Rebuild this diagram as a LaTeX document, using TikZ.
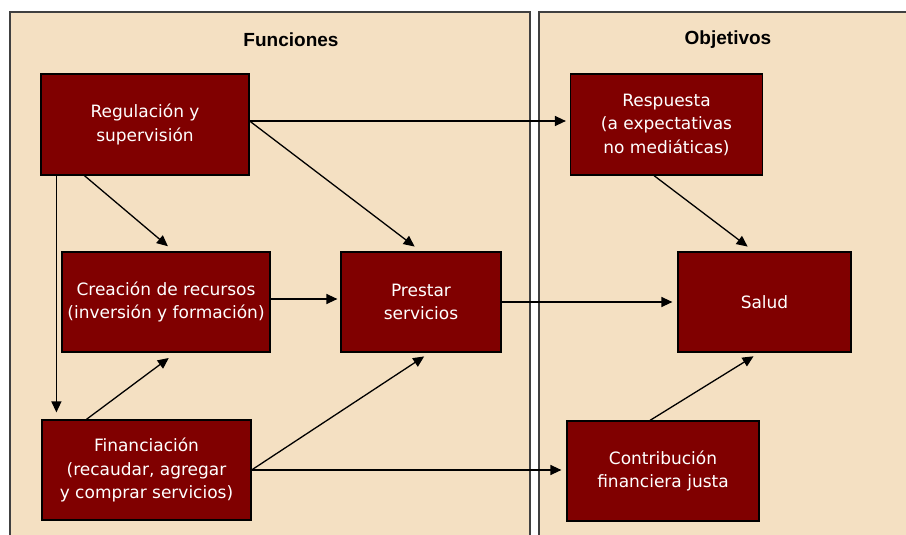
\documentclass[tikz,border=0pt]{standalone}
\usepackage{fontspec}
\setmainfont{DejaVu Sans}
\newfontfamily\titlefont{Liberation Sans}
\usetikzlibrary{arrows.meta,calc}
\definecolor{beige}{HTML}{F4E0C2}
\definecolor{boxred}{HTML}{800000}
\begin{document}
\begin{tikzpicture}[x=1pt,y=-1pt,
 box/.style={draw=black,line width=1.2pt,fill=boxred,text=white,align=center,inner sep=0pt,font=\fontsize{17}{23.5}\selectfont},
 arr/.style={-{Triangle[length=11pt,width=10pt]},line width=1.3pt,draw=black},
 panel/.style={draw=black!75,line width=1.5pt,fill=beige},
 title/.style={font=\titlefont\bfseries\fontsize{19}{21}\selectfont}]
\useasboundingbox (0,0) rectangle (906,535);
\fill[white] (0,0) rectangle (906,535);
\begin{scope}
\clip (0,0) rectangle (906,535);
\draw[panel] (10,12) rectangle (530,545);
\draw[panel] (539,12) rectangle (915,545);
\end{scope}
\node[title] (tf) at (291,40) {Funciones};
\node[title] (to) at (728,40) {Objetivos};

\node[box,minimum width=208pt,minimum height=101pt] (reg) at (145,124.5) {Regulación y\\supervisión};
\node[box,minimum width=208pt,minimum height=100pt] (cre) at (166,302) {Creación de recursos\\(inversión y formación)};
\node[box,minimum width=160pt,minimum height=100pt] (pre) at (421,302) {Prestar\\servicios};
\node[box,minimum width=209pt,minimum height=100pt] (fin) at (146.5,470) {Financiación\\(recaudar, agregar\\y comprar servicios)};
\node[box,minimum width=192pt,minimum height=101pt] (res) at (666.5,124.5) {Respuesta\\(a expectativas\\no mediáticas)};
\node[box,minimum width=173pt,minimum height=100pt] (sal) at (764.5,302) {Salud};
\node[box,minimum width=192pt,minimum height=100pt] (con) at (663,471) {Contribución\\financiera justa};

\coordinate (rege) at ([yshift=3.5pt]reg.east);
\draw[arr,shorten >=4pt] (rege) -- (rege -| res.west);
\draw[arr,shorten >=8pt] (rege) -- (pre.north);
\draw[arr,shorten >=8pt] ([xshift=44pt]reg.south west) -- ([xshift=8pt]cre.north);
\coordinate (regs) at ([xshift=16pt]reg.south west);
\draw[arr,shorten >=7pt] (regs) -- (regs |- fin.north);
\draw[arr,shorten >=3pt] ([yshift=3pt]cre.east) -- ([yshift=3pt]cre.east -| pre.west);
\draw[arr,shorten >=5pt] (pre.east) -- (sal.west);
\draw[arr,shorten >=8pt] ([xshift=-12.5pt]res.south) -- ([xshift=-10.5pt]sal.north);
\draw[arr,shorten >=9pt] ([xshift=45pt]fin.north west) -- ([xshift=10pt]cre.south);
\draw[arr,shorten >=7pt] (fin.east) -- ([xshift=9pt]pre.south);
\draw[arr,shorten >=5pt] (fin.east) -- (fin.east -| con.west);
\draw[arr,shorten >=7pt] ([xshift=-13pt]con.north) -- ([xshift=-5pt]sal.south);
\end{tikzpicture}
\end{document}
